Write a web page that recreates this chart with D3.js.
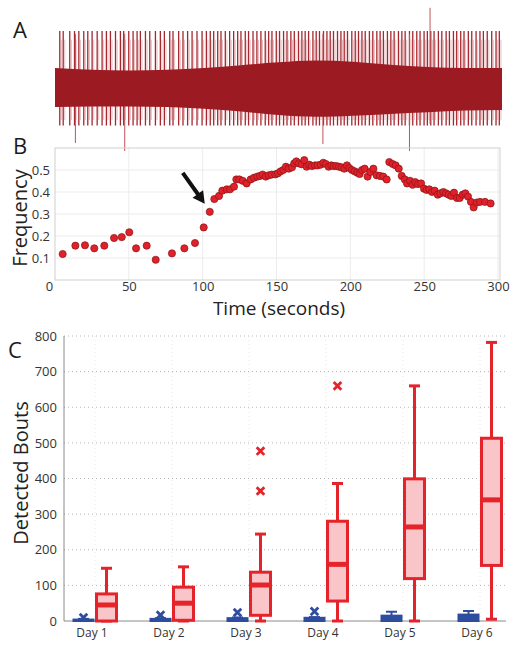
<!DOCTYPE html>
<html><head><meta charset="utf-8">
<script src="https://cdn.jsdelivr.net/npm/d3@7"></script>
<style>body{margin:0;background:#fff;} text{font-family:"Open Sans",sans-serif;}</style>
</head><body><svg id="c" width="516" height="647"></svg>
<script>
// ---------- Panel A data (recording trace) ----------
const spikeTimes = [3.2,5.5,9.9,13.1,16.0,19.3,22.0,24.9,28.3,31.6,34.5,37.2,40.6,43.9,46.1,49.5,52.4,55.1,57.3,60.7,63.6,67.4,70.7,73.4,77.0,79.2,83.0,85.9,89.0,92.0,95.3,98.7,101.6,104.2,106.5,109.2,111.4,114.3,117.2,119.9,122.6,124.8,127.7,129.9,132.9,135.5,138.2,141.1,143.4,145.6,148.5,150.7,153.4,155.7,158.3,160.6,163.4,165.7,167.9,170.2,173.1,175.3,177.5,180.2,182.5,184.7,186.9,189.6,191.9,194.1,196.3,199.2,201.5,203.7,206.0,208.2,211.0,213.3,216.0,218.2,220.4,223.1,225.4,227.6,230.5,232.8,235.0,237.9,240.1,242.8,245.0,247.7,249.9,252.2,254.4,257.3,259.6,262.5,264.7,267.4,269.6,272.3,274.5,277.4,279.7,282.6,285.2,287.5,290.1,293.1,296.0,298.2];
const typicalSpike = [1.0, -0.63];           // typical peak / trough
const extremeT    = [13.7, 46.8, 179.8, 237.9, 251.7];
const extremeUp   = [0.95, 0.95, 0.95, 0.95, 1.4];
const extremeDown = [-0.93, -1.07, -0.95, -1.07, -0.6];
const bandT     = [0, 25, 50, 75, 100, 125, 150, 175, 200, 225, 250, 275, 300];
const bandUpper = [0.36, 0.33, 0.32, 0.33, 0.36, 0.41, 0.46, 0.49, 0.47, 0.42, 0.38, 0.36, 0.36];
const bandLower = [-0.31, -0.30, -0.30, -0.31, -0.34, -0.39, -0.45, -0.48, -0.46, -0.43, -0.40, -0.37, -0.36];

// ---------- Panel B data ----------
const freqT = [5.2,13.8,20.3,26.6,33.4,40.0,45.2,50.3,54.9,62.1,68.2,79.2,87.6,94.8,100.7,104.8,107.9,111.1,113.3,116.3,118.5,121.2,122.8,124.8,127.1,129.8,132.5,134.8,137.0,138.8,140.6,142.7,144.7,146.7,149.2,151.0,152.8,154.6,156.4,158.3,160.5,162.0,163.4,165.2,167.0,168.8,170.4,172.2,174.0,176.1,177.9,179.9,181.7,183.5,185.3,187.1,188.7,190.5,192.3,194.1,195.9,197.7,199.3,201.1,202.9,204.7,206.3,207.9,209.7,211.7,213.5,215.6,217.8,220.1,222.3,224.6,226.4,228.7,230.7,232.8,234.8,236.9,238.4,240.4,242.2,244.0,245.8,247.9,249.9,251.7,253.5,255.3,257.1,259.2,261.0,263.0,264.8,266.6,268.4,270.2,272.2,274.1,276.1,277.9,279.7,281.7,283.5,285.6,287.8,291.2,295.0];
const freqV = [0.118,0.156,0.158,0.144,0.156,0.191,0.195,0.217,0.144,0.156,0.092,0.121,0.144,0.168,0.239,0.310,0.368,0.382,0.406,0.412,0.412,0.424,0.457,0.457,0.451,0.439,0.457,0.465,0.470,0.473,0.479,0.470,0.476,0.479,0.480,0.485,0.494,0.500,0.515,0.506,0.512,0.530,0.539,0.530,0.526,0.545,0.515,0.524,0.518,0.521,0.521,0.524,0.533,0.527,0.515,0.521,0.518,0.518,0.515,0.512,0.506,0.521,0.509,0.500,0.494,0.488,0.482,0.500,0.506,0.470,0.491,0.506,0.476,0.473,0.470,0.457,0.536,0.527,0.521,0.506,0.473,0.457,0.439,0.451,0.433,0.445,0.436,0.439,0.415,0.409,0.412,0.400,0.406,0.388,0.394,0.400,0.394,0.388,0.382,0.397,0.373,0.373,0.388,0.394,0.379,0.355,0.330,0.352,0.355,0.355,0.348];
const freqXTicks = [0, 50, 100, 150, 200, 250, 300];
const freqYTicks = [0.1, 0.2, 0.3, 0.4, 0.5];
const arrowAt = [104.8, 0.31];

// ---------- Panel C data ----------
const days = ["Day 1", "Day 2", "Day 3", "Day 4", "Day 5", "Day 6"];
const redLow  = [0, 0, 0, 0, 0, 5];
const redQ1   = [0, 2, 16, 56, 119, 156];
const redMed  = [45, 50, 101, 159, 264, 340];
const redQ3   = [76, 95, 137, 280, 399, 513];
const redHigh = [148, 152, 244, 386, 660, 782];
const redOutDay = [3, 3, 4];
const redOutVal = [365, 477, 660];
const blueLow  = [0, 0, 0, 0, 0, 0];
const blueQ1   = [0, 0, 0, 0, 0, 0];
const blueMed  = [1, 2, 3, 3, 6, 8];
const blueQ3   = [4, 6, 8, 9, 15, 18];
const blueHigh = [6, 8, 10, 11, 26, 28];
const blueOutDay = [1, 2, 3, 4];
const blueOutVal = [10, 17, 24, 27];
const boutTicks = [0, 100, 200, 300, 400, 500, 600, 700, 800];

const svg = d3.select("#c");
const RED = "#e5232b", PINK = "#f9c5c9", BLUE = "#2f4d9f", TRACE = "#a11d25";

// panel letters
[["A", 13, 38], ["B", 13, 154], ["C", 8, 358]].forEach(([t, x, y]) =>
  svg.append("text").attr("x", x).attr("y", y).attr("font-size", 22).attr("fill", "#1a1a1a").text(t));

// ---------- Panel A ----------
const ax = d3.scaleLinear().domain([0, 300]).range([55, 502]);
const ay = d3.scaleLinear().domain([-1, 1]).range([147, 31]);
const bandData = bandT.map((t, i) => ({t, u: bandUpper[i], l: bandLower[i]}));
const gA = svg.append("g");
gA.selectAll("line.sp").data(spikeTimes).join("line").attr("class", "sp")
  .attr("x1", d => ax(d)).attr("x2", d => ax(d))
  .attr("y1", ay(typicalSpike[0])).attr("y2", ay(typicalSpike[1]))
  .attr("stroke", TRACE).attr("stroke-width", 1.3).attr("opacity", 0.95);
gA.selectAll("line.sp2").data(spikeTimes).join("line").attr("class", "sp2")
  .attr("x1", d => ax(d) + 1.6).attr("x2", d => ax(d) + 1.6)
  .attr("y1", ay(typicalSpike[0] * 0.85)).attr("y2", ay(typicalSpike[1] * 0.85))
  .attr("stroke", "#d98a8f").attr("stroke-width", 0.8).attr("opacity", 0.7);
gA.selectAll("line.ex").data(extremeT).join("line").attr("class", "ex")
  .attr("x1", d => ax(d)).attr("x2", d => ax(d))
  .attr("y1", (d, i) => ay(extremeUp[i])).attr("y2", (d, i) => ay(extremeDown[i]))
  .attr("stroke", "#c2545b").attr("stroke-width", 1);
gA.append("path").datum(bandData)
  .attr("d", d3.area().x(d => ax(d.t)).y0(d => ay(d.l)).y1(d => ay(d.u)).curve(d3.curveMonotoneX))
  .attr("fill", "#9c1b22");

// ---------- Panel B ----------
const bx = d3.scaleLinear().domain([0, 300]).range([55, 498]);
const by = d3.scaleLinear().domain([0, 0.6]).range([280, 148]);
const gB = svg.append("g");
gB.selectAll("line.gx").data(freqXTicks.slice(1)).join("line").attr("class", "gx")
  .attr("x1", d => bx(d)).attr("x2", d => bx(d)).attr("y1", 148).attr("y2", 280)
  .attr("stroke", "#ececec");
gB.selectAll("line.gy").data(freqYTicks).join("line").attr("class", "gy")
  .attr("x1", 55).attr("x2", 500).attr("y1", d => by(d)).attr("y2", d => by(d))
  .attr("stroke", "#ececec");
gB.append("rect").attr("x", 55).attr("y", 148).attr("width", 445).attr("height", 132)
  .attr("fill", "none").attr("stroke", "#cfcfcf");
const xAxB = gB.append("g").attr("transform", "translate(0,280)")
  .call(d3.axisBottom(bx).tickValues(freqXTicks).tickSize(0).tickPadding(2).tickFormat(d3.format("d")));
xAxB.select(".domain").remove();
xAxB.selectAll("text").attr("font-size", 13).attr("fill", "#333").attr("font-family", "Open Sans");
xAxB.selectAll(".tick").filter(d => d === 0).select("text").attr("dx", -6);
const yAxB = gB.append("g").attr("transform", "translate(55,0)")
  .call(d3.axisLeft(by).tickValues(freqYTicks).tickSize(0).tickPadding(5).tickFormat(d3.format(".1f")));
yAxB.select(".domain").remove();
yAxB.selectAll("text").attr("font-size", 13).attr("fill", "#333").attr("font-family", "Open Sans");
gB.selectAll("circle").data(freqT).join("circle")
  .attr("cx", d => bx(d)).attr("cy", (d, i) => by(freqV[i])).attr("r", 3.6)
  .attr("fill", "#e0202a").attr("stroke", "#8a1616").attr("stroke-width", 0.7);
gB.append("text").attr("transform", "translate(27,218) rotate(-90)").attr("text-anchor", "middle")
  .attr("font-size", 20).attr("fill", "#222").text("Frequency");
gB.append("text").attr("x", 279).attr("y", 315).attr("text-anchor", "middle")
  .attr("font-size", 19).attr("fill", "#222").text("Time (seconds)");
// arrow
{
  const tip = [bx(arrowAt[0]) - 5, by(arrowAt[1]) - 8];
  const dx = 22, dy = 31, L = Math.hypot(dx, dy), ux = dx / L, uy = dy / L, px = -uy, py = ux;
  const tail = [tip[0] - dx, tip[1] - dy];
  const hb = [tip[0] - ux * 12, tip[1] - uy * 12];
  const pts = [
    [tail[0] + px * 2, tail[1] + py * 2], [hb[0] + px * 2, hb[1] + py * 2], [hb[0] + px * 6.5, hb[1] + py * 6.5],
    tip, [hb[0] - px * 6.5, hb[1] - py * 6.5], [hb[0] - px * 2, hb[1] - py * 2], [tail[0] - px * 2, tail[1] - py * 2]];
  gB.append("path").attr("d", "M" + pts.map(p => p.join(",")).join("L") + "Z").attr("fill", "#111");
}

// ---------- Panel C ----------
const cx = d3.scaleLinear().domain([1, 6]).range([95, 480]);
const cy = d3.scaleLinear().domain([0, 800]).range([621, 336]);
const gC = svg.append("g");
gC.selectAll("line.gy").data(boutTicks.slice(1)).join("line").attr("class", "gy")
  .attr("x1", 64).attr("x2", 506).attr("y1", d => cy(d)).attr("y2", d => cy(d))
  .attr("stroke", "#b5b5b5").attr("stroke-dasharray", "1,3");
gC.selectAll("line.gx").data(days).join("line").attr("class", "gx")
  .attr("x1", (d, i) => cx(i + 1)).attr("x2", (d, i) => cx(i + 1)).attr("y1", 336).attr("y2", 621)
  .attr("stroke", "#e6e6e6").attr("stroke-dasharray", "1,3");
gC.append("line").attr("x1", 64).attr("x2", 64).attr("y1", 336).attr("y2", 621).attr("stroke", "#8a8a8a");
gC.append("line").attr("x1", 64).attr("x2", 506).attr("y1", 621).attr("y2", 621).attr("stroke", "#8a8a8a");
const yAxC = gC.append("g").attr("transform", "translate(64,0)")
  .call(d3.axisLeft(cy).tickValues(boutTicks).tickSize(0).tickPadding(7).tickFormat(d3.format("d")));
yAxC.select(".domain").remove();
yAxC.selectAll("text").attr("font-size", 13).attr("fill", "#333").attr("font-family", "Open Sans");
gC.selectAll("text.day").data(days).join("text").attr("class", "day")
  .attr("x", (d, i) => cx(i + 1) - 3).attr("y", 637).attr("text-anchor", "middle")
  .attr("font-size", 12).attr("fill", "#333").text(d => d);
gC.append("text").attr("transform", "translate(28,473) rotate(-90)").attr("text-anchor", "middle")
  .attr("font-size", 20).attr("fill", "#222").text("Detected Bouts");

function boxes(off, low, q1, med, q3, high, color, fill, sw, medW) {
  const g = gC.append("g");
  days.forEach((d, i) => {
    const c = cx(i + 1) + off, hw = 10, cw = 5.5;
    g.append("line").attr("x1", c).attr("x2", c).attr("y1", cy(q3[i])).attr("y2", cy(high[i]))
      .attr("stroke", color).attr("stroke-width", sw);
    g.append("line").attr("x1", c).attr("x2", c).attr("y1", cy(q1[i])).attr("y2", cy(low[i]))
      .attr("stroke", color).attr("stroke-width", sw);
    g.append("line").attr("x1", c - cw).attr("x2", c + cw).attr("y1", cy(high[i])).attr("y2", cy(high[i]))
      .attr("stroke", color).attr("stroke-width", sw);
    g.append("line").attr("x1", c - cw).attr("x2", c + cw).attr("y1", cy(low[i])).attr("y2", cy(low[i]))
      .attr("stroke", color).attr("stroke-width", sw);
    g.append("rect").attr("x", c - hw).attr("width", 2 * hw)
      .attr("y", cy(q3[i])).attr("height", Math.max(0.5, cy(q1[i]) - cy(q3[i])))
      .attr("fill", fill).attr("stroke", color).attr("stroke-width", sw);
    g.append("line").attr("x1", c - hw).attr("x2", c + hw).attr("y1", cy(med[i])).attr("y2", cy(med[i]))
      .attr("stroke", color).attr("stroke-width", medW);
  });
}
function outliers(off, dayArr, valArr, color) {
  gC.append("g").selectAll("path").data(valArr).join("path")
    .attr("d", (v, i) => {
      const x = cx(dayArr[i]) + off, y = cy(v), s = 3.8;
      return `M${x - s},${y - s}L${x + s},${y + s}M${x - s},${y + s}L${x + s},${y - s}`;
    })
    .attr("stroke", color).attr("stroke-width", 2.8).attr("fill", "none");
}
boxes(-11.5, blueLow, blueQ1, blueMed, blueQ3, blueHigh, BLUE, BLUE, 2, 2);
boxes(11.5, redLow, redQ1, redMed, redQ3, redHigh, RED, PINK, 3, 5);
outliers(-11.5, blueOutDay, blueOutVal, BLUE);
outliers(11.5, redOutDay, redOutVal, RED);
</script></body></html>
